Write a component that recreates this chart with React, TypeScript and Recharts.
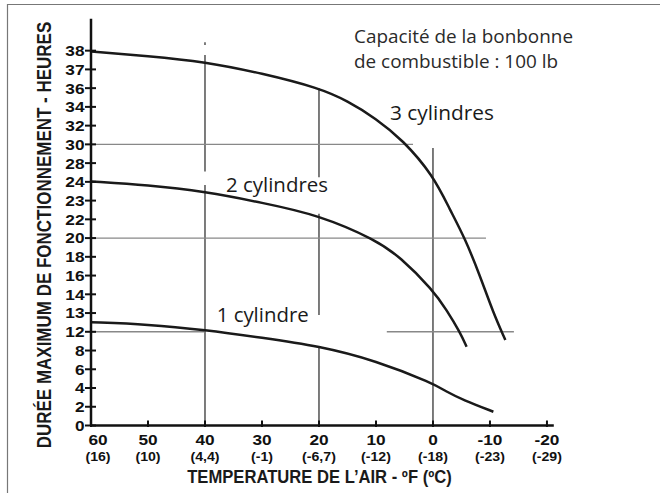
import React from "react";
import { LineChart, Line, XAxis, YAxis, ReferenceLine } from "recharts";

// y axis is not linear: the 21 ticks are evenly spaced but carry these hour labels
const Y_TICK_LABELS = [0, 2, 4, 6, 8, 12, 13, 14, 16, 18, 20, 22, 23, 24, 28, 30, 32, 34, 36, 37, 38];
const Y_TICK_INDEX = Y_TICK_LABELS.map((_, i) => i);

const X_TICKS = [60, 50, 40, 30, 20, 10, 0, -10, -20];
const X_TICKS_C = ["(16)", "(10)", "(4,4)", "(-1)", "(-6,7)", "(-12)", "(-18)", "(-23)", "(-29)"];

// temperature (ºF) / run time (hours) for each curve
const TEMP_3 = [60, 50, 40, 30, 20, 15, 10, 5.3, 0, -3, -5.6, -8.3, -10.6, -12.7];
const HOURS_3 = [37.95, 37.72, 37.41, 36.79, 36.01, 34.64, 32.76, 30.47, 25.44, 22.5, 20.0, 15.9, 13.0, 10.25];

const TEMP_2 = [60, 50, 40, 30, 20, 10, 5.8, 0, -2.4, -4.7, -5.9];
const HOURS_2 = [24.1, 23.83, 23.48, 22.89, 22.23, 19.8, 18.0, 14.46, 13.16, 12.0, 8.8];

const TEMP_1 = [60, 50, 40, 30, 20, 10, 0, -2.4, -5.3, -10.6];
const HOURS_1 = [12.51, 12.4, 12.1, 10.74, 8.96, 6.92, 4.5, 3.6, 2.72, 1.47];

// guide lines of the original drawing: vertical at a temperature, horizontal at an hour value
const V_LINE_TEMP = [40, 40, 40, 20, 20, 20, 0];
const V_LINE_FROM = [38.45, 37.77, 23.83, 36.0, 22.3, 8.96, 29.6];
const V_LINE_TO = [38.3, 26.2, 0, 25.0, 12.9, 0, 0];

const H_LINE_HOURS = [30, 20, 12, 12];
const H_LINE_FROM = [60, 60, 60, 8.1];
const H_LINE_TO = [3.5, -9.3, 40, -14.2];

// map an hour value onto the evenly spaced tick index
function toAxis(h: number): number {
  const t = Y_TICK_LABELS;
  if (h >= t[t.length - 1]) return t.length - 1 + (h - t[t.length - 1]);
  for (let i = 0; i < t.length - 1; i++) {
    if (h >= t[i] && h <= t[i + 1]) return i + (h - t[i]) / (t[i + 1] - t[i]);
  }
  return 0;
}

const build = (temps: number[], hours: number[]) =>
  temps.map((f, i) => ({ f, y: toAxis(hours[i]) }));

const data3 = build(TEMP_3, HOURS_3);
const data2 = build(TEMP_2, HOURS_2);
const data1 = build(TEMP_1, HOURS_1);

const BOLD = "'Liberation Sans', Arial, sans-serif";
const SANS = "'Open Sans', 'Noto Sans', sans-serif";

const YTick = (props: any) => {
  const { x, y, payload } = props;
  const label = Y_TICK_LABELS[payload.value];
  return (
    <g>
      <line x1={x - 6} x2={x + 5} y1={y} y2={y} stroke="#111" strokeWidth={2} />
      <g transform={`translate(${x - 6.5},${y + 5.4}) scale(1.15,1)`}>
        <text textAnchor="end" fontFamily={BOLD} fontWeight="bold" fontSize={15} fill="#111">
          {label}
        </text>
      </g>
    </g>
  );
};

const XTick = (props: any) => {
  const { x, y, payload } = props;
  const idx = X_TICKS.indexOf(payload.value);
  const dx = payload.value === 60 ? 7 : 0;
  return (
    <g>
      <line x1={x} x2={x} y1={y - 5} y2={y + 1.5} stroke="#111" strokeWidth={2} />
      <g transform={`translate(${x + dx},${y + 19.5}) scale(1.15,1)`}>
        <text textAnchor="middle" fontFamily={BOLD} fontWeight="bold" fontSize={15} fill="#111">
          {payload.value}
        </text>
      </g>
      <g transform={`translate(${x + dx},${y + 35.5}) scale(1.18,1)`}>
        <text textAnchor="middle" fontFamily={BOLD} fontWeight="bold" fontSize={12} fill="#111">
          {X_TICKS_C[idx]}
        </text>
      </g>
    </g>
  );
};

export default function App() {
  return (
    <div style={{ position: "absolute", left: 0, top: 0, width: 660, height: 493, background: "#fff" }}>
      <LineChart
        width={660}
        height={493}
        margin={{ top: 18.8, right: 106.2, bottom: 66.5, left: 90 }}
      >
        <XAxis
          type="number"
          dataKey="f"
          domain={[-21.2, 60]}
          reversed
          allowDataOverflow
          ticks={X_TICKS}
          interval={0}
          height={1}
          tickSize={0}
          tickMargin={0}
          tickLine={false}
          tick={<XTick />}
          axisLine={{ stroke: "#111", strokeWidth: 2.5 }}
        />
        <YAxis
          type="number"
          dataKey="y"
          domain={[0, 21.7]}
          allowDataOverflow
          ticks={Y_TICK_INDEX}
          interval={0}
          width={1}
          tickSize={0}
          tickMargin={0}
          tickLine={false}
          tick={<YTick />}
          axisLine={{ stroke: "#111", strokeWidth: 2.5 }}
        />
        {V_LINE_TEMP.map((f, i) => (
          <ReferenceLine
            key={`v-${i}`}
            segment={[
              { x: f, y: toAxis(V_LINE_FROM[i]) },
              { x: f, y: toAxis(V_LINE_TO[i]) },
            ]}
            stroke="#444"
            strokeWidth={1.4}
          />
        ))}
        {H_LINE_HOURS.map((h, i) => (
          <ReferenceLine
            key={`h-${i}`}
            segment={[
              { x: H_LINE_FROM[i], y: toAxis(h) },
              { x: H_LINE_TO[i], y: toAxis(h) },
            ]}
            stroke="#888"
            strokeWidth={1.4}
          />
        ))}
        <Line data={data3} dataKey="y" type="basis" stroke="#1a1a1a" strokeWidth={2.5} dot={false} isAnimationActive={false} />
        <Line data={data2} dataKey="y" type="basis" stroke="#1a1a1a" strokeWidth={2.5} dot={false} isAnimationActive={false} />
        <Line data={data1} dataKey="y" type="basis" stroke="#1a1a1a" strokeWidth={2.5} dot={false} isAnimationActive={false} />
      </LineChart>
      <svg
        width={660}
        height={493}
        style={{ position: "absolute", left: 0, top: 0, pointerEvents: "none" }}
      >
        <line x1={7} x2={660} y1={4.5} y2={4.5} stroke="#777" strokeWidth={1.2} />
        <line x1={7.5} x2={7.5} y1={4} y2={493} stroke="#777" strokeWidth={1.2} />
        <g transform="translate(50.5,235) rotate(-90) scale(0.85,1)">
          <text textAnchor="middle" fontFamily={BOLD} fontWeight="bold" fontSize={20} fill="#1a1a1a">
            DURÉE MAXIMUM DE FONCTIONNEMENT - HEURES
          </text>
        </g>
        <g transform="translate(319.5,483.3) scale(0.944,1)">
          <text textAnchor="middle" fontFamily={BOLD} fontWeight="bold" fontSize={17.6} fill="#1a1a1a">
            TEMPERATURE DE L’AIR - ºF (ºC)
          </text>
        </g>
        <text x={354} y={43.3} fontFamily={SANS} fontSize={19} fill="#2a2a2a" textLength={219} lengthAdjust="spacingAndGlyphs">
          Capacité de la bonbonne
        </text>
        <text x={354} y={68.3} fontFamily={SANS} fontSize={19} fill="#2a2a2a" textLength={204} lengthAdjust="spacingAndGlyphs">
          de combustible : 100 lb
        </text>
        <text x={390} y={120} fontFamily={SANS} fontSize={20.5} fill="#1a1a1a" textLength={104} lengthAdjust="spacingAndGlyphs">
          3 cylindres
        </text>
        <text x={226} y={192.3} fontFamily={SANS} fontSize={20.5} fill="#1a1a1a" textLength={102} lengthAdjust="spacingAndGlyphs">
          2 cylindres
        </text>
        <text x={216.7} y={321.7} fontFamily={SANS} fontSize={20.5} fill="#1a1a1a" textLength={92} lengthAdjust="spacingAndGlyphs">
          1 cylindre
        </text>
      </svg>
    </div>
  );
}
